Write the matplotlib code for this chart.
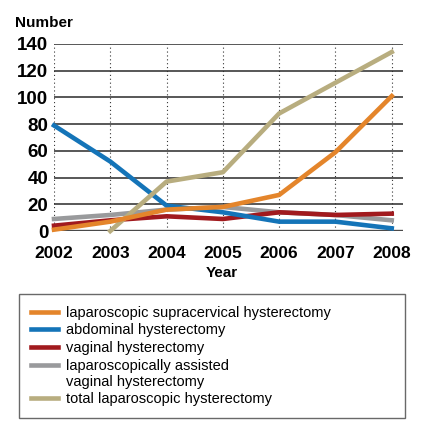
import numpy as np
import matplotlib.pyplot as plt
from matplotlib.legend_handler import HandlerLine2D

plt.rcParams['font.family'] = ['Liberation Sans', 'DejaVu Sans']

years = [2002, 2003, 2004, 2005, 2006, 2007, 2008]
lsh = [1, 7, 16, 18, 27, 59, 101]
abdominal = [79, 52, 19, 14, 7, 7, 2]
vaginal = [4, 8, 11, 9, 14, 12, 13]
lavh = [9, 12, 16, 18, 14, 12, 8]
tlh_years = [2003, 2004, 2005, 2006, 2007, 2008]
tlh = [0, 37, 44, 88, 111, 134]

labels = ['laparoscopic supracervical hysterectomy',
          'abdominal hysterectomy',
          'vaginal hysterectomy',
          'laparoscopically assisted\nvaginal hysterectomy',
          'total laparoscopic hysterectomy']
colors = ['#E4852B', '#1474B8', '#A11A1E', '#999A9C', '#B8AD7F']


# legend handle sitting on the first line of a two-line label
class TopLineHandler(HandlerLine2D):
    def create_artists(self, legend, orig_handle, xdescent, ydescent,
                       width, height, fontsize, trans):
        arts = super().create_artists(legend, orig_handle, xdescent, ydescent,
                                      width, height, fontsize, trans)
        for a in arts:
            a.set_ydata(np.asarray(a.get_ydata()) + fontsize * 0.62)
        return arts


fig = plt.figure(figsize=(4.23, 4.33), dpi=100)
ax = fig.add_axes([54/423, 1-231/433, 349/423, 187/433])

lw = 3.3
h_lavh, = ax.plot(years, lavh, color=colors[3], lw=lw, zorder=3, clip_on=False)
h_vag, = ax.plot(years, vaginal, color=colors[2], lw=lw, zorder=4, clip_on=False)
h_abd, = ax.plot(years, abdominal, color=colors[1], lw=lw, zorder=5, clip_on=False)
h_tlh, = ax.plot(tlh_years, tlh, color=colors[4], lw=lw, zorder=6, clip_on=False)
h_lsh, = ax.plot(years, lsh, color=colors[0], lw=lw, zorder=7, clip_on=False)

ax.set_xlim(2002, 2008.2)
ax.set_ylim(0, 140)
ax.set_xticks(years)
ax.set_yticks(range(0, 141, 20))
for y in range(20, 141, 20):
    ax.axhline(y, color='#4a4a4a', lw=1.3, zorder=1)
for x in years:
    ax.axvline(x, color='#333333', lw=0.8, ls=(0, (1, 2.5)), zorder=1)
ax.axhline(0, color='#4a4a4a', lw=1.7, zorder=2)

for s in ax.spines.values():
    s.set_visible(False)
ax.tick_params(length=0)
ax.tick_params(axis='x', pad=11, labelsize=12.5)
ax.tick_params(axis='y', pad=4, labelsize=13.5)
for t in ax.get_xticklabels() + ax.get_yticklabels():
    t.set_fontweight('bold')

fig.text(15/423, 1-23/433, 'Number', fontsize=11, fontweight='bold', va='center', ha='left')
fig.text(222/423, 1-273/433, 'Year', fontsize=11, fontweight='bold', va='center', ha='center')

handles = [h_lsh, h_abd, h_vag, h_lavh, h_tlh]
leg = fig.legend(handles, labels, loc='upper left',
                 bbox_to_anchor=(19/423, 1-415/433, 386/423, 121/433),
                 mode='expand', frameon=True, fancybox=False,
                 edgecolor='#444444', fontsize=10.5, handlelength=1.9,
                 handletextpad=0.5, labelspacing=0.25, borderpad=0.8,
                 borderaxespad=0, handler_map={h_lavh: TopLineHandler()})
leg.get_frame().set_linewidth(1.0)

fig.savefig('out.png', dpi=100)
